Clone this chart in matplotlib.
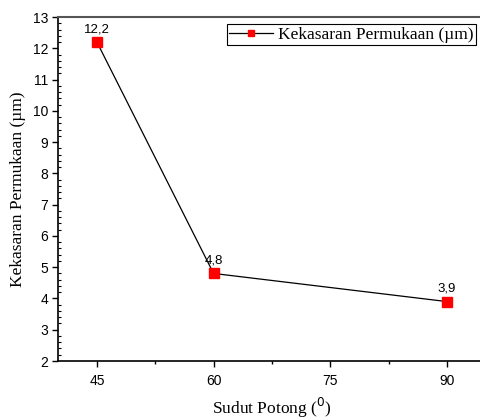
import numpy as np
import matplotlib.pyplot as plt
from matplotlib.ticker import MultipleLocator

# data
sudut = [45, 60, 90]
kekasaran = [12.2, 4.8, 3.9]
label_titik = ["12,2", "4,8", "3,9"]

xticks = [45, 60, 75, 90]

fig = plt.figure(figsize=(4.81, 4.19), dpi=100)
ax = fig.add_axes([58/481, 1 - 361/419, 1 - 58/481 + 0.01, (361 - 17)/419])

ax.plot(sudut, kekasaran, color="black", lw=0.9, marker="s", ms=6.5,
        mfc="red", mec="red", label="Kekasaran Permukaan (µm)")

for x, y, t in zip(sudut, kekasaran, label_titik):
    ax.annotate(t, (x, y), xytext=(0, 5), textcoords="offset points",
                ha="center", va="bottom", fontsize=9.5, family="Liberation Sans")

ax.set_xlim(40, 95)
ax.set_ylim(2, 13)
ax.set_xticks(xticks)
ax.xaxis.set_minor_locator(MultipleLocator(7.5))
ax.yaxis.set_major_locator(MultipleLocator(1))
ax.yaxis.set_minor_locator(MultipleLocator(0.2))

for lbl in ax.get_xticklabels() + ax.get_yticklabels():
    lbl.set_family("Liberation Sans")
    lbl.set_fontsize(10)

ax.tick_params(axis="x", which="major", direction="out", length=4, width=1, pad=5)
ax.tick_params(axis="x", which="minor", direction="out", length=2.5, width=1)
ax.tick_params(axis="y", which="major", direction="out", length=4, width=1, pad=3)
ax.tick_params(axis="y", which="minor", direction="in", length=2.5, width=0.8)

ax.spines["right"].set_visible(False)
ax.spines["top"].set_color("#555555")
ax.spines["top"].set_linewidth(1.5)
ax.spines["left"].set_linewidth(1.2)
ax.spines["bottom"].set_linewidth(1.2)

ax.set_xlabel("Sudut Potong ($^{0}$)", family="Liberation Serif", fontsize=12.5, labelpad=6)
ax.set_ylabel("Kekasaran Permukaan (µm)", family="Liberation Serif", fontsize=12.5, labelpad=5)

leg = ax.legend(loc="upper right", bbox_to_anchor=(476/481, 1 - 24/419),
                bbox_transform=fig.transFigure, prop={"family": "Liberation Serif", "size": 12.5},
                fancybox=False, edgecolor="black", framealpha=1, borderpad=0.15,
                handlelength=2.5, handletextpad=0.3, borderaxespad=0, markerscale=0.75)
leg.get_frame().set_linewidth(0.8)

fig.savefig("out.png", dpi=100)
